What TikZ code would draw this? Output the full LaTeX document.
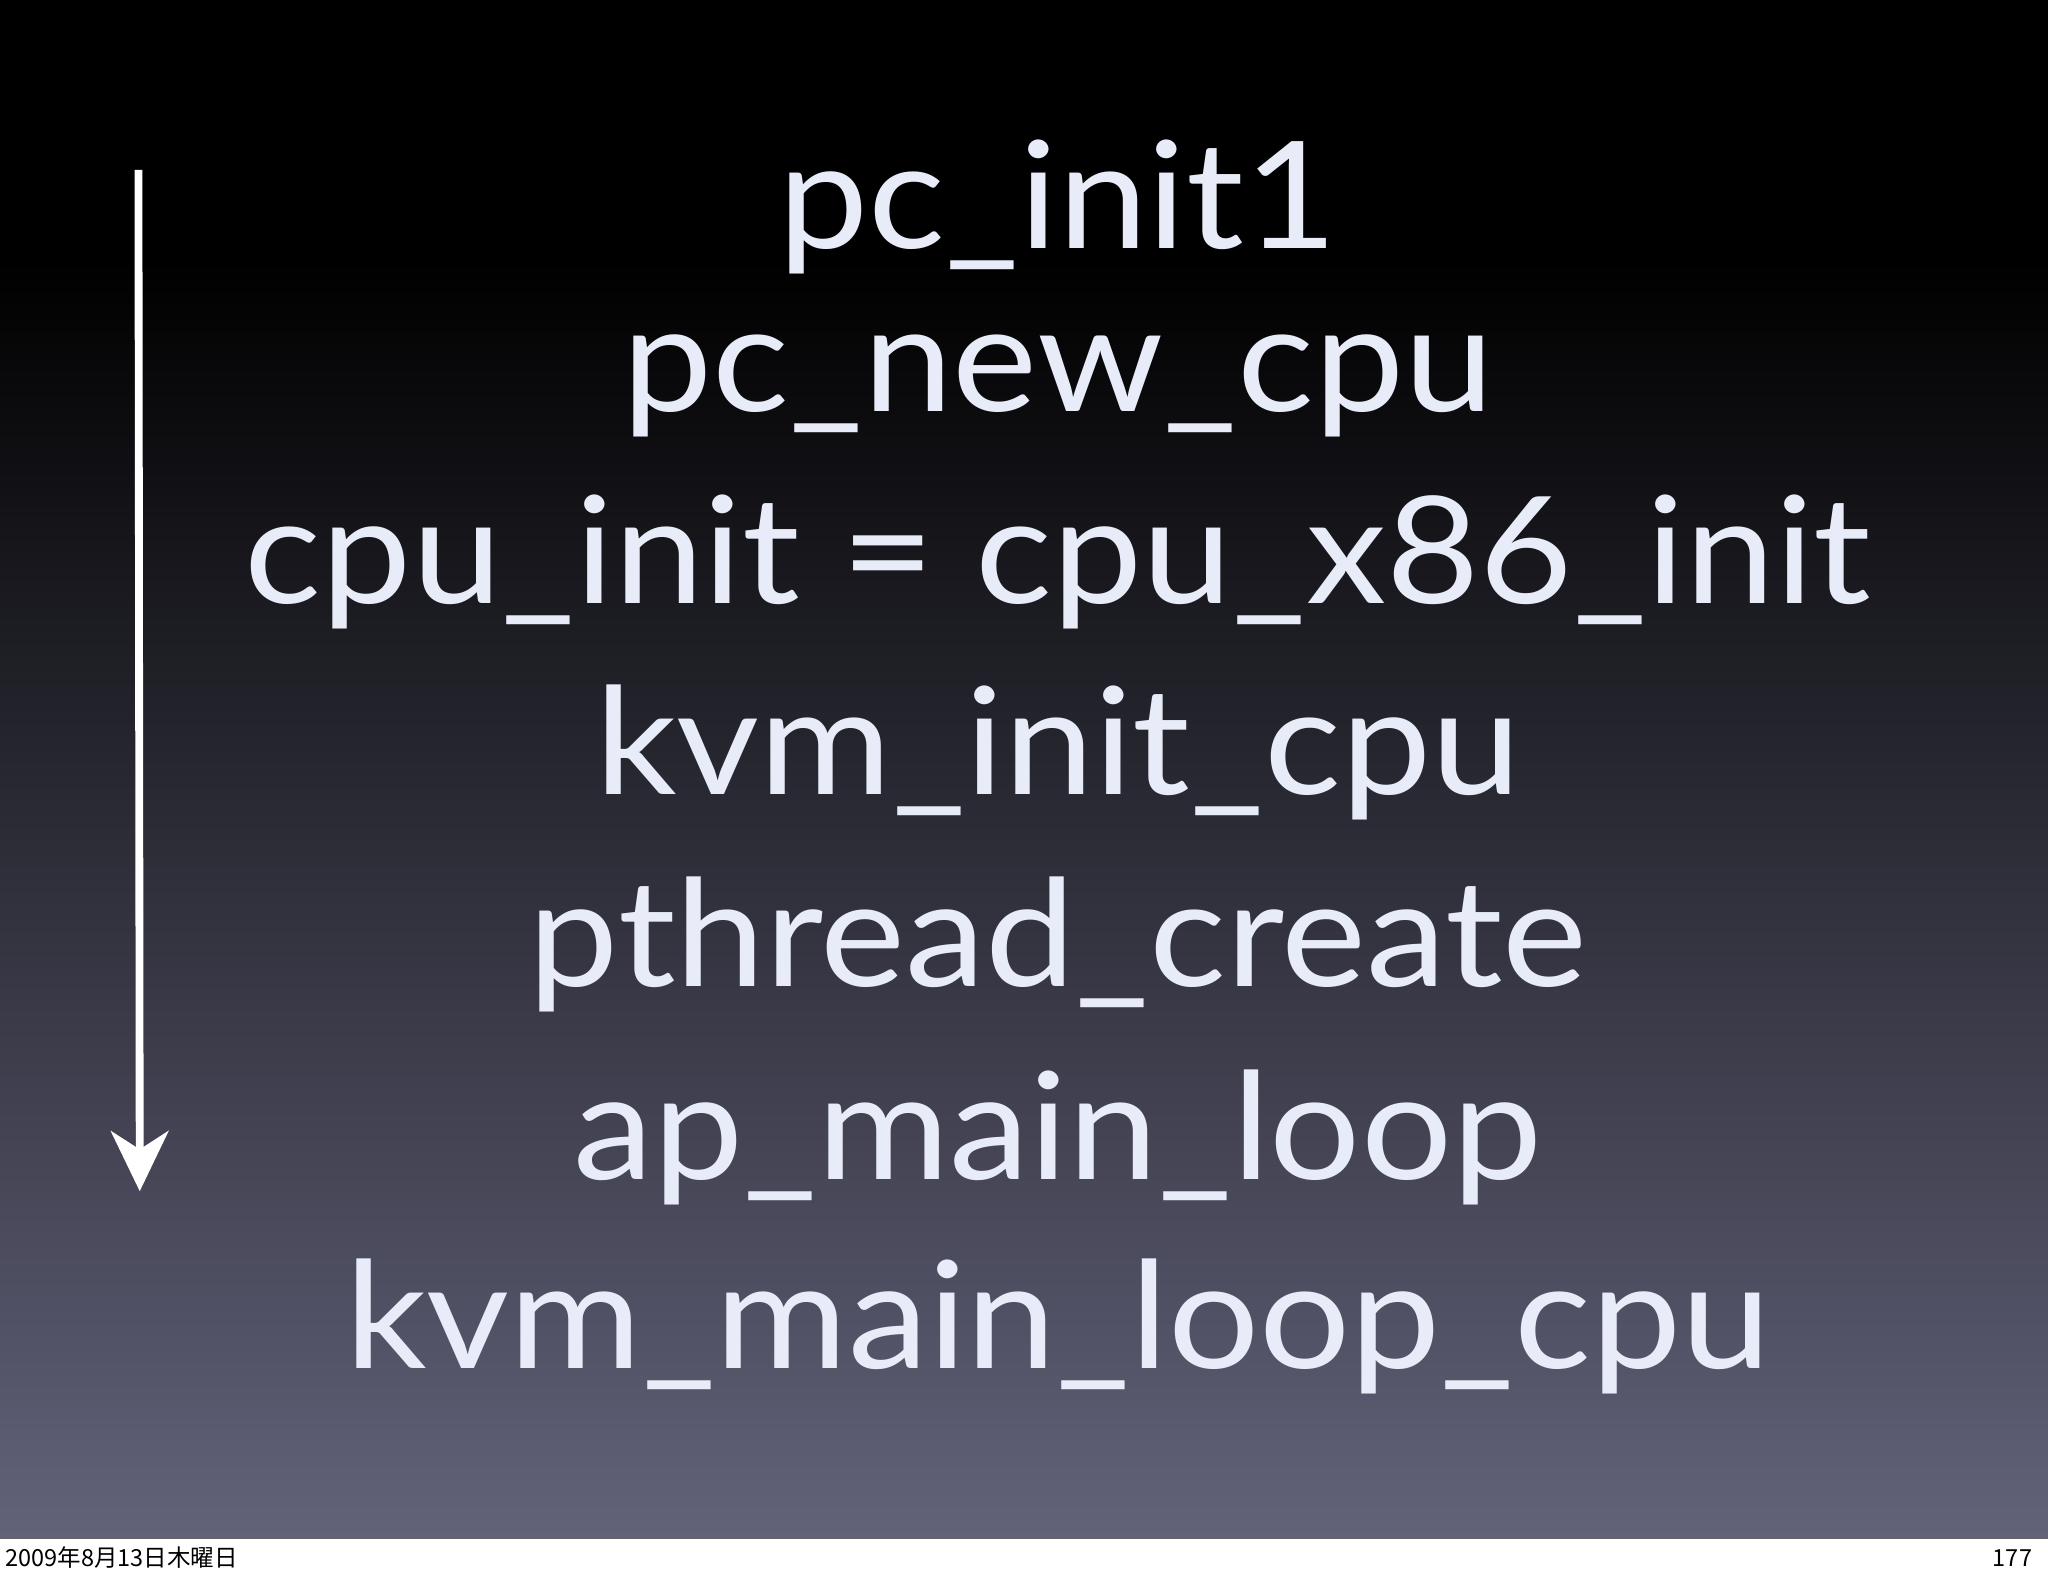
\documentclass[tikz,border=0pt]{standalone}
\usepackage{fontspec}
\setmainfont{Lato}
\newfontfamily\cjk{Noto Sans CJK JP}
\usetikzlibrary{arrows.meta}
\definecolor{txt}{HTML}{E8ECF8}
\definecolor{bgbot}{HTML}{62627A}
\tikzset{line/.style={font=\fontsize{114}{116}\selectfont, text=txt, anchor=base, inner sep=0pt, xscale=1.08},
foot/.style={font=\fontsize{18}{20}\selectfont, anchor=base, inner sep=0pt}}
\begin{document}
\begin{tikzpicture}[x=1pt,y=-1pt]
\useasboundingbox (0,0) rectangle (1568,1207);
\fill[black] (0,0) rectangle (1568,200);
\shade[top color=black, bottom color=bgbot] (0,199) rectangle (1568,1178);
\fill[white] (0,1178) rectangle (1568,1207);
\draw[black!60] (0,1178) -- (1568,1178);
\node[line] (l1) at (810,190) {pc\_init1};
\node[line] (l2) at (810,315) {pc\_new\_cpu};
\node[line] (l3) at (810,462) {cpu\_init = cpu\_x86\_init};
\node[line] (l4) at (810,608) {kvm\_init\_cpu};
\node[line] (l5) at (810,755) {pthread\_create};
\node[line] (l6) at (810,903) {ap\_main\_loop};
\node[line] (l7) at (810,1048) {kvm\_main\_loop\_cpu};
\coordinate (a1) at (106,130);
\coordinate (a2) at (107,912);
\draw[white, line width=6pt, -{Stealth[length=46pt,width=44pt,inset=14pt]}] (a1) -- (a2);
\node[foot, anchor=base west] (f1) at (4,1199) {\cjk 2009年8月13日木曜日};
\node[foot, anchor=base east] (f2) at (1556,1199) {\cjk 177};
\end{tikzpicture}
\end{document}
